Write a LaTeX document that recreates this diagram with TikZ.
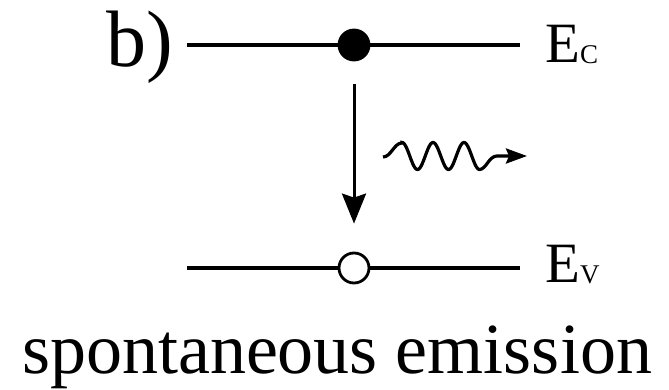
\documentclass[tikz,border=0pt]{standalone}
\usepackage{fontspec}
\setmainfont{Liberation Serif}
\usetikzlibrary{arrows.meta}
\tikzset{
  level/.style={line width=3.2pt},
  carrier/.style={circle, draw, line width=2.8pt, inner sep=0pt, minimum size=30pt},
  lbl/.style={inner sep=0pt, anchor=base west},
  transition/.style={line width=3pt, -{Stealth[length=30pt, width=24pt, inset=4pt]}},
  photon/.style={line width=3.2pt, -{Stealth[length=21pt, width=15pt, inset=3pt]}},
}
\begin{document}
\begin{tikzpicture}[x=1pt, y=-1pt]
\useasboundingbox (0,0) rectangle (669,390);
% levels
\coordinate (cl) at (187,45);
\coordinate (cr) at (520,45);
\coordinate (vl) at (187,268);
\coordinate (vr) at (520,268);
\draw[level] (cl) -- (cr);
\draw[level] (vl) -- (vr);
% electron and hole
\node[carrier, fill=black] (c) at (354,45) {};
\node[carrier, fill=white] (v) at (354,268) {};
% transition
\draw[transition, shorten <=23pt, shorten >=28pt] (c) -- (v);
% photon
\coordinate (ps) at (383,157);
\coordinate (pe) at (527,156);
\draw[photon] (ps) .. controls (391,157) and (394,143) .. (402,143)
  -- plot[domain=402:479.5, samples=80, smooth] (\x, {156-13.5*cos((\x-402)/31*360)})
  .. controls (486,169.5) and (489,156) .. (497,156) -- (pe);
% labels
\node[lbl] (b) at (106,67) {\fontsize{80}{80}\selectfont b)};
\node[lbl] (ec) at (545,63) {\fontsize{57}{57}\selectfont E\raisebox{-1pt}{\fontsize{27}{27}\selectfont C}};
\node[lbl] (ev) at (545,282) {\fontsize{57}{57}\selectfont E\raisebox{-1pt}{\fontsize{27}{27}\selectfont V}};
\node[inner sep=0pt, anchor=base] (t) at (337,373) {\fontsize{72}{72}\selectfont spontaneous emission};
\end{tikzpicture}
\end{document}
